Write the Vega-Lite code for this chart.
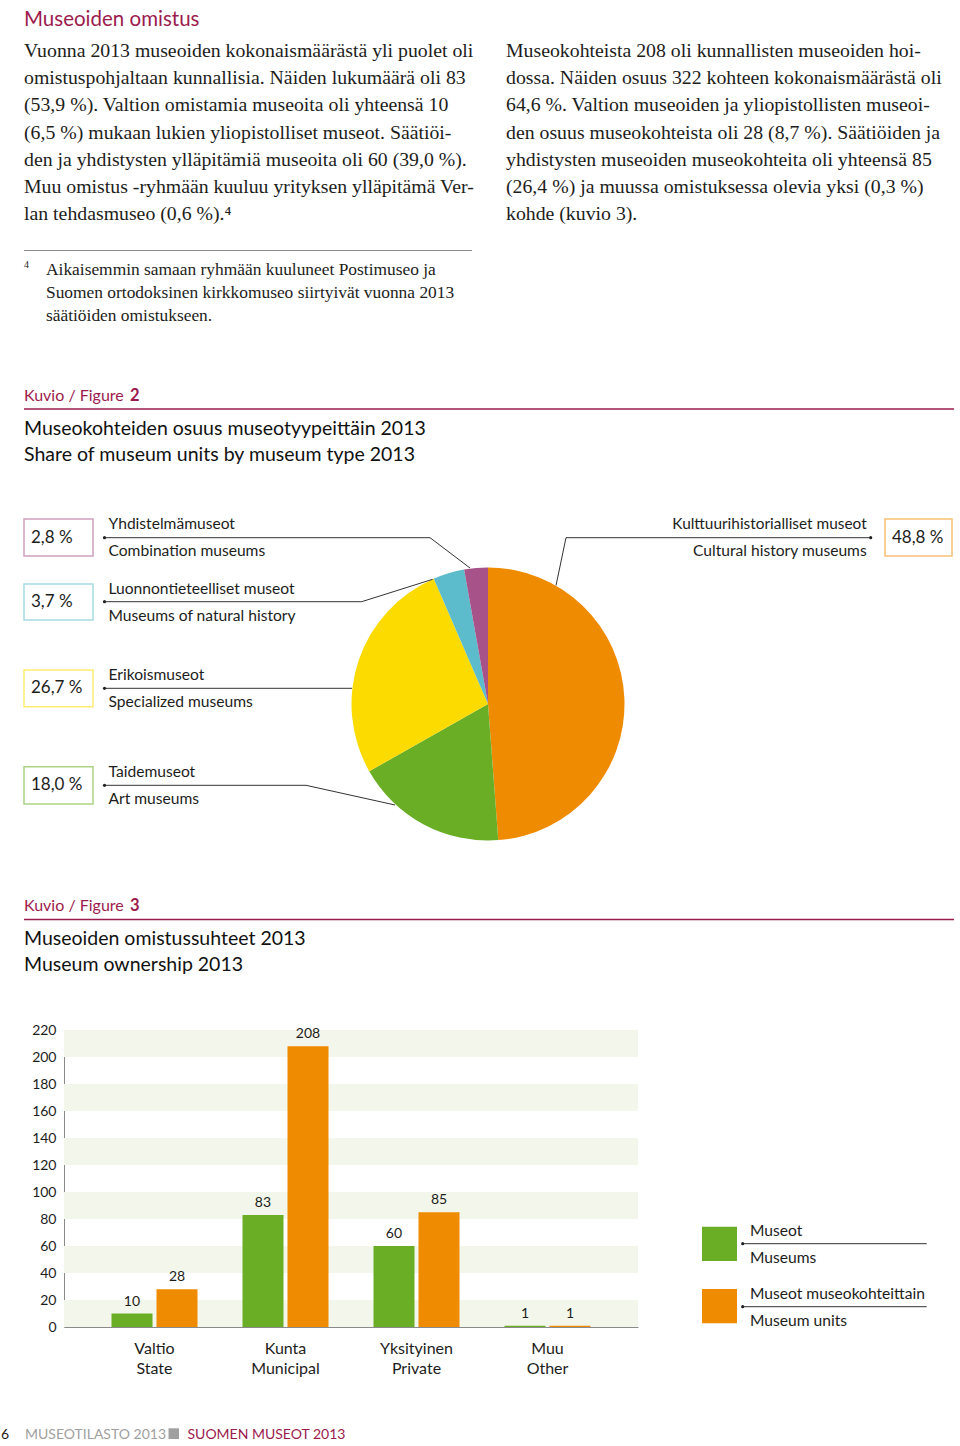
{
"$schema": "https://vega.github.io/schema/vega-lite/v6.json",
"padding": 0,
"background": "#ffffff",
"bounds": "flush",
"spacing": 0,
"resolve": {"scale": {"color": "independent", "stroke": "independent"}},
"config": {"view": {"stroke": null}, "text": {"font": "Lato", "color": "#1d1d1b"}, "axis": {"labelFont": "Lato"}},
"vconcat": [
{
 "width": 960, "height": 500,
 "layer": [
  {"data": {"values": [{"t": "Museoiden omistus"}]}, "mark": {"type": "text", "align": "left", "baseline": "alphabetic", "fontSize": 20.5, "color": "#9c1b4e"}, "encoding": {"x": {"value": 24}, "y": {"value": 25.5}, "text": {"field": "t", "type": "nominal"}}},
  {"data": {"values": [{"t": "Vuonna 2013 museoiden kokonaismäärästä yli puolet oli\nomistuspohjaltaan kunnallisia. Näiden lukumäärä oli 83\n(53,9 %). Valtion omistamia museoita oli yhteensä 10\n(6,5 %) mukaan lukien yliopistolliset museot. Säätiöi-\nden ja yhdistysten ylläpitämiä museoita oli 60 (39,0 %).\nMuu omistus -ryhmään kuuluu yrityksen ylläpitämä Ver-\nlan tehdasmuseo (0,6 %).⁴"}]}, "mark": {"type": "text", "align": "left", "baseline": "alphabetic", "font": "Liberation Serif", "fontSize": 19.8, "lineBreak": "\n", "lineHeight": 27.2}, "encoding": {"x": {"value": 24}, "y": {"value": 57}, "text": {"field": "t", "type": "nominal"}}},
  {"data": {"values": [{"t": "\u00a0\u00a0\u00a0\u00a0\u00a0\u00a0\u00a0Museokohteista 208 oli kunnallisten museoiden hoi-\ndossa. Näiden osuus 322 kohteen kokonaismäärästä oli\n64,6 %. Valtion museoiden ja yliopistollisten museoi-\nden osuus museokohteista oli 28 (8,7 %). Säätiöiden ja\nyhdistysten museoiden museokohteita oli yhteensä 85\n(26,4 %) ja muussa omistuksessa olevia yksi (0,3 %)\nkohde (kuvio 3)."}]}, "mark": {"type": "text", "align": "left", "baseline": "alphabetic", "font": "Liberation Serif", "fontSize": 19.8, "lineBreak": "\n", "lineHeight": 27.2}, "encoding": {"x": {"value": 506}, "y": {"value": 57}, "text": {"field": "t", "type": "nominal"}}},
  {"data": {"values": [{"a": 1}]}, "mark": {"type": "rule", "color": "#8c8c8c", "strokeWidth": 1}, "encoding": {"x": {"value": 24}, "x2": {"value": 472}, "y": {"value": 250.5}, "y2": {"value": 250.5}}},
  {"data": {"values": [{"t": "4"}]}, "mark": {"type": "text", "align": "left", "baseline": "alphabetic", "font": "Liberation Serif", "fontSize": 10}, "encoding": {"x": {"value": 24}, "y": {"value": 268}, "text": {"field": "t", "type": "nominal"}}},
  {"data": {"values": [{"t": "Aikaisemmin samaan ryhmään kuuluneet Postimuseo ja\nSuomen ortodoksinen kirkkomuseo siirtyivät vuonna 2013\nsäätiöiden omistukseen."}]}, "mark": {"type": "text", "align": "left", "baseline": "alphabetic", "font": "Liberation Serif", "fontSize": 17.4, "lineBreak": "\n", "lineHeight": 23}, "encoding": {"x": {"value": 46}, "y": {"value": 275}, "text": {"field": "t", "type": "nominal"}}},
  {"data": {"values": [{"t": "Kuvio / Figure"}]}, "mark": {"type": "text", "align": "left", "baseline": "alphabetic", "fontSize": 16, "color": "#9c1b4e"}, "encoding": {"x": {"value": 24}, "y": {"value": 401}, "text": {"field": "t", "type": "nominal"}}},
  {"data": {"values": [{"t": "2"}]}, "mark": {"type": "text", "align": "left", "baseline": "alphabetic", "fontSize": 16.5, "fontWeight": "bold", "color": "#9c1b4e"}, "encoding": {"x": {"value": 130}, "y": {"value": 401}, "text": {"field": "t", "type": "nominal"}}},
  {"data": {"values": [{"a": 1}]}, "mark": {"type": "rule", "color": "#9c1b4e", "strokeWidth": 1.5}, "encoding": {"x": {"value": 24}, "x2": {"value": 954}, "y": {"value": 409}, "y2": {"value": 409}}},
  {"data": {"values": [{"t": "Museokohteiden osuus museotyypeittäin 2013\nShare of museum units by museum type 2013"}]}, "mark": {"type": "text", "align": "left", "baseline": "alphabetic", "fontSize": 19.5, "lineBreak": "\n", "lineHeight": 26.5, "color": "#111111"}, "encoding": {"x": {"value": 24}, "y": {"value": 434.5}, "text": {"field": "t", "type": "nominal"}}}
 ]
},
{
 "width": 960, "height": 408,
 "data": {"values": [
   {"tyyppi": "Kulttuurihistorialliset museot", "type": "Cultural history museums", "share": 48.8, "label": "48,8 %", "idx": 1},
   {"tyyppi": "Taidemuseot", "type": "Art museums", "share": 18.0, "label": "18,0 %", "idx": 2},
   {"tyyppi": "Erikoismuseot", "type": "Specialized museums", "share": 26.7, "label": "26,7 %", "idx": 3},
   {"tyyppi": "Luonnontieteelliset museot", "type": "Museums of natural history", "share": 3.7, "label": "3,7 %", "idx": 4},
   {"tyyppi": "Yhdistelmämuseot", "type": "Combination museums", "share": 2.8, "label": "2,8 %", "idx": 5}
 ]},
 "layer": [
  {"mark": {"type": "arc", "outerRadius": 136.5}, "encoding": {"x": {"value": 488}, "y": {"value": 204}, "theta": {"field": "share", "type": "quantitative", "stack": true}, "order": {"field": "idx", "type": "quantitative"}, "color": {"field": "type", "type": "nominal", "scale": {"domain": ["Cultural history museums", "Art museums", "Specialized museums", "Museums of natural history", "Combination museums"], "range": ["#ef8b00", "#6aae26", "#fcdc00", "#5cbccc", "#a8528a"]}, "legend": null}}},
  {"transform": [{"filter": "datum.idx == 5"}], "layer": [
    {"mark": {"type": "rect", "fill": "white", "strokeWidth": 1.5, "strokeOpacity": 0.55}, "encoding": {"x": {"value": 24}, "x2": {"value": 93}, "y": {"value": 19}, "y2": {"value": 56}, "stroke": {"field": "type", "type": "nominal", "scale": {"domain": ["Cultural history museums", "Art museums", "Specialized museums", "Museums of natural history", "Combination museums"], "range": ["#ef8b00", "#6aae26", "#fcdc00", "#5cbccc", "#a8528a"]}, "legend": null}}},
    {"mark": {"type": "text", "align": "left", "baseline": "middle", "fontSize": 17}, "encoding": {"x": {"value": 31}, "y": {"value": 37.5}, "text": {"field": "label", "type": "nominal"}}},
    {"mark": {"type": "text", "align": "left", "baseline": "middle", "fontSize": 15.6}, "encoding": {"x": {"value": 108.5}, "y": {"value": 24}, "text": {"field": "tyyppi", "type": "nominal"}}},
    {"mark": {"type": "text", "align": "left", "baseline": "middle", "fontSize": 15.6}, "encoding": {"x": {"value": 108.5}, "y": {"value": 51}, "text": {"field": "type", "type": "nominal"}}},
    {"mark": {"type": "rule", "color": "#333333", "strokeWidth": 1}, "encoding": {"x": {"value": 104.5}, "y": {"value": 37.7}, "x2": {"value": 430}, "y2": {"value": 37.7}}},
    {"mark": {"type": "rule", "color": "#333333", "strokeWidth": 1}, "encoding": {"x": {"value": 430}, "y": {"value": 37.7}, "x2": {"value": 470}, "y2": {"value": 68}}},
    {"mark": {"type": "point", "shape": "circle", "filled": true, "size": 10, "color": "#222222", "opacity": 1}, "encoding": {"x": {"value": 104.5}, "y": {"value": 37.7}}}
  ]},
  {"transform": [{"filter": "datum.idx == 4"}], "layer": [
    {"mark": {"type": "rect", "fill": "white", "strokeWidth": 1.5, "strokeOpacity": 0.55}, "encoding": {"x": {"value": 24}, "x2": {"value": 93}, "y": {"value": 84}, "y2": {"value": 120}, "stroke": {"field": "type", "type": "nominal", "scale": {"domain": ["Cultural history museums", "Art museums", "Specialized museums", "Museums of natural history", "Combination museums"], "range": ["#ef8b00", "#6aae26", "#fcdc00", "#5cbccc", "#a8528a"]}, "legend": null}}},
    {"mark": {"type": "text", "align": "left", "baseline": "middle", "fontSize": 17}, "encoding": {"x": {"value": 31}, "y": {"value": 102}, "text": {"field": "label", "type": "nominal"}}},
    {"mark": {"type": "text", "align": "left", "baseline": "middle", "fontSize": 15.6}, "encoding": {"x": {"value": 108.5}, "y": {"value": 88.5}, "text": {"field": "tyyppi", "type": "nominal"}}},
    {"mark": {"type": "text", "align": "left", "baseline": "middle", "fontSize": 15.6}, "encoding": {"x": {"value": 108.5}, "y": {"value": 115.5}, "text": {"field": "type", "type": "nominal"}}},
    {"mark": {"type": "rule", "color": "#333333", "strokeWidth": 1}, "encoding": {"x": {"value": 104.5}, "y": {"value": 101.7}, "x2": {"value": 361.7}, "y2": {"value": 101.7}}},
    {"mark": {"type": "rule", "color": "#333333", "strokeWidth": 1}, "encoding": {"x": {"value": 361.7}, "y": {"value": 101.7}, "x2": {"value": 432.7}, "y2": {"value": 79.3}}},
    {"mark": {"type": "point", "shape": "circle", "filled": true, "size": 10, "color": "#222222", "opacity": 1}, "encoding": {"x": {"value": 104.5}, "y": {"value": 101.7}}}
  ]},
  {"transform": [{"filter": "datum.idx == 3"}], "layer": [
    {"mark": {"type": "rect", "fill": "white", "strokeWidth": 1.5, "strokeOpacity": 0.55}, "encoding": {"x": {"value": 24}, "x2": {"value": 93}, "y": {"value": 170}, "y2": {"value": 206.7}, "stroke": {"field": "type", "type": "nominal", "scale": {"domain": ["Cultural history museums", "Art museums", "Specialized museums", "Museums of natural history", "Combination museums"], "range": ["#ef8b00", "#6aae26", "#fcdc00", "#5cbccc", "#a8528a"]}, "legend": null}}},
    {"mark": {"type": "text", "align": "left", "baseline": "middle", "fontSize": 17}, "encoding": {"x": {"value": 31}, "y": {"value": 188.3}, "text": {"field": "label", "type": "nominal"}}},
    {"mark": {"type": "text", "align": "left", "baseline": "middle", "fontSize": 15.6}, "encoding": {"x": {"value": 108.5}, "y": {"value": 174.8}, "text": {"field": "tyyppi", "type": "nominal"}}},
    {"mark": {"type": "text", "align": "left", "baseline": "middle", "fontSize": 15.6}, "encoding": {"x": {"value": 108.5}, "y": {"value": 201.8}, "text": {"field": "type", "type": "nominal"}}},
    {"mark": {"type": "rule", "color": "#333333", "strokeWidth": 1}, "encoding": {"x": {"value": 104.5}, "y": {"value": 188.3}, "x2": {"value": 352}, "y2": {"value": 188.3}}},
    {"mark": {"type": "point", "shape": "circle", "filled": true, "size": 10, "color": "#222222", "opacity": 1}, "encoding": {"x": {"value": 104.5}, "y": {"value": 188.3}}}
  ]},
  {"transform": [{"filter": "datum.idx == 2"}], "layer": [
    {"mark": {"type": "rect", "fill": "white", "strokeWidth": 1.5, "strokeOpacity": 0.55}, "encoding": {"x": {"value": 24}, "x2": {"value": 93}, "y": {"value": 266.7}, "y2": {"value": 304}, "stroke": {"field": "type", "type": "nominal", "scale": {"domain": ["Cultural history museums", "Art museums", "Specialized museums", "Museums of natural history", "Combination museums"], "range": ["#ef8b00", "#6aae26", "#fcdc00", "#5cbccc", "#a8528a"]}, "legend": null}}},
    {"mark": {"type": "text", "align": "left", "baseline": "middle", "fontSize": 17}, "encoding": {"x": {"value": 31}, "y": {"value": 285.3}, "text": {"field": "label", "type": "nominal"}}},
    {"mark": {"type": "text", "align": "left", "baseline": "middle", "fontSize": 15.6}, "encoding": {"x": {"value": 108.5}, "y": {"value": 271.8}, "text": {"field": "tyyppi", "type": "nominal"}}},
    {"mark": {"type": "text", "align": "left", "baseline": "middle", "fontSize": 15.6}, "encoding": {"x": {"value": 108.5}, "y": {"value": 298.8}, "text": {"field": "type", "type": "nominal"}}},
    {"mark": {"type": "rule", "color": "#333333", "strokeWidth": 1}, "encoding": {"x": {"value": 104.5}, "y": {"value": 285.3}, "x2": {"value": 306}, "y2": {"value": 285.3}}},
    {"mark": {"type": "rule", "color": "#333333", "strokeWidth": 1}, "encoding": {"x": {"value": 306}, "y": {"value": 285.3}, "x2": {"value": 395}, "y2": {"value": 305}}},
    {"mark": {"type": "point", "shape": "circle", "filled": true, "size": 10, "color": "#222222", "opacity": 1}, "encoding": {"x": {"value": 104.5}, "y": {"value": 285.3}}}
  ]},
  {"transform": [{"filter": "datum.idx == 1"}], "layer": [
    {"mark": {"type": "rect", "fill": "white", "strokeWidth": 1.5, "strokeOpacity": 0.55}, "encoding": {"x": {"value": 885}, "x2": {"value": 952}, "y": {"value": 19}, "y2": {"value": 56}, "stroke": {"field": "type", "type": "nominal", "scale": {"domain": ["Cultural history museums", "Art museums", "Specialized museums", "Museums of natural history", "Combination museums"], "range": ["#ef8b00", "#6aae26", "#fcdc00", "#5cbccc", "#a8528a"]}, "legend": null}}},
    {"mark": {"type": "text", "align": "left", "baseline": "middle", "fontSize": 17}, "encoding": {"x": {"value": 892}, "y": {"value": 37.5}, "text": {"field": "label", "type": "nominal"}}},
    {"mark": {"type": "text", "align": "right", "baseline": "middle", "fontSize": 15.4}, "encoding": {"x": {"value": 866.7}, "y": {"value": 24}, "text": {"field": "tyyppi", "type": "nominal"}}},
    {"mark": {"type": "text", "align": "right", "baseline": "middle", "fontSize": 15.6}, "encoding": {"x": {"value": 866.7}, "y": {"value": 51}, "text": {"field": "type", "type": "nominal"}}},
    {"mark": {"type": "rule", "color": "#333333", "strokeWidth": 1}, "encoding": {"x": {"value": 870.7}, "y": {"value": 37.7}, "x2": {"value": 566}, "y2": {"value": 37.7}}},
    {"mark": {"type": "rule", "color": "#333333", "strokeWidth": 1}, "encoding": {"x": {"value": 566}, "y": {"value": 37.7}, "x2": {"value": 556}, "y2": {"value": 85.5}}},
    {"mark": {"type": "point", "shape": "circle", "filled": true, "size": 10, "color": "#222222", "opacity": 1}, "encoding": {"x": {"value": 870.7}, "y": {"value": 37.7}}}
  ]}
 ]
},
{
 "width": 960, "height": 122,
 "layer": [
  {"data": {"values": [{"t": "Kuvio / Figure"}]}, "mark": {"type": "text", "align": "left", "baseline": "alphabetic", "fontSize": 16, "color": "#9c1b4e"}, "encoding": {"x": {"value": 24}, "y": {"value": 3}, "text": {"field": "t", "type": "nominal"}}},
  {"data": {"values": [{"t": "3"}]}, "mark": {"type": "text", "align": "left", "baseline": "alphabetic", "fontSize": 16.5, "fontWeight": "bold", "color": "#9c1b4e"}, "encoding": {"x": {"value": 130}, "y": {"value": 3}, "text": {"field": "t", "type": "nominal"}}},
  {"data": {"values": [{"a": 1}]}, "mark": {"type": "rule", "color": "#9c1b4e", "strokeWidth": 1.5}, "encoding": {"x": {"value": 24}, "x2": {"value": 954}, "y": {"value": 11.5}, "y2": {"value": 11.5}}},
  {"data": {"values": [{"t": "Museoiden omistussuhteet 2013\nMuseum ownership 2013"}]}, "mark": {"type": "text", "align": "left", "baseline": "alphabetic", "fontSize": 19.5, "lineBreak": "\n", "lineHeight": 26.5, "color": "#111111"}, "encoding": {"x": {"value": 24}, "y": {"value": 36.5}, "text": {"field": "t", "type": "nominal"}}}
 ]
},
{
 "width": 960, "height": 297,
 "layer": [
  {"data": {"values": [{"lo": 0, "hi": 20}, {"lo": 40, "hi": 60}, {"lo": 80, "hi": 100}, {"lo": 120, "hi": 140}, {"lo": 160, "hi": 180}, {"lo": 200, "hi": 220}]},
   "mark": {"type": "rect", "color": "#f3f6ea"},
   "encoding": {"x": {"value": 64}, "x2": {"value": 638}, "y": {"field": "lo", "type": "quantitative", "scale": {"domain": [0, 220], "nice": false}, "axis": {"title": null, "offset": -64, "values": [0, 20, 40, 60, 80, 100, 120, 140, 160, 180, 200, 220], "grid": false, "ticks": false, "tickSize": 0, "labelPadding": 8, "labelFontSize": 14, "labelColor": "#1d1d1b", "domainColor": "#8a8a8a", "domainWidth": 1}}, "y2": {"field": "hi"}}},
  {"data": {"values": [
    {"owner": "Valtio|State", "series": "Museot", "n": 10},
    {"owner": "Valtio|State", "series": "Museokohteet", "n": 28},
    {"owner": "Kunta|Municipal", "series": "Museot", "n": 83},
    {"owner": "Kunta|Municipal", "series": "Museokohteet", "n": 208},
    {"owner": "Yksityinen|Private", "series": "Museot", "n": 60},
    {"owner": "Yksityinen|Private", "series": "Museokohteet", "n": 85},
    {"owner": "Muu|Other", "series": "Museot", "n": 1},
    {"owner": "Muu|Other", "series": "Museokohteet", "n": 1}
   ]},
   "encoding": {
    "x": {"field": "owner", "type": "nominal", "sort": null, "scale": {"range": [64, 638], "paddingInner": 0.3435, "paddingOuter": 0.3626}, "axis": {"title": null, "labelExpr": "split(datum.label, '|')", "labelAngle": 0, "labelFontSize": 16, "labelLineHeight": 20, "labelPadding": 13, "labelColor": "#1d1d1b", "ticks": false, "tickSize": 0, "domainColor": "#8a8a8a", "domainWidth": 1.2}},
    "xOffset": {"field": "series", "type": "nominal", "sort": ["Museot", "Museokohteet"], "scale": {"paddingInner": 0.089, "paddingOuter": 0}},
    "y": {"field": "n", "type": "quantitative", "scale": {"domain": [0, 220], "nice": false}, "axis": {"title": null, "offset": -64, "values": [0, 20, 40, 60, 80, 100, 120, 140, 160, 180, 200, 220], "grid": false, "ticks": false, "tickSize": 0, "labelPadding": 8, "labelFontSize": 14, "labelColor": "#1d1d1b", "domainColor": "#8a8a8a", "domainWidth": 1}}
   },
   "layer": [
    {"mark": {"type": "bar"}, "encoding": {"color": {"field": "series", "type": "nominal", "scale": {"domain": ["Museot", "Museokohteet"], "range": ["#6aae26", "#ef8b00"]}, "legend": null}}},
    {"mark": {"type": "text", "baseline": "alphabetic", "dy": -8, "fontSize": 14, "color": "#1d1d1b"}, "encoding": {"text": {"field": "n", "type": "quantitative"}}}
   ]
  },
  {"data": {"values": [{"series": "Museot", "fi": "Museot", "en": "Museums"}]}, "layer": [
    {"mark": {"type": "rect"}, "encoding": {"x": {"value": 702}, "x2": {"value": 737}, "y": {"value": 196.7}, "y2": {"value": 231}, "color": {"field": "series", "type": "nominal", "scale": {"domain": ["Museot", "Museokohteet"], "range": ["#6aae26", "#ef8b00"]}, "legend": null}}},
    {"mark": {"type": "text", "align": "left", "baseline": "middle", "fontSize": 15.6}, "encoding": {"x": {"value": 750}, "y": {"value": 201}, "text": {"field": "fi", "type": "nominal"}}},
    {"mark": {"type": "text", "align": "left", "baseline": "middle", "fontSize": 15.6}, "encoding": {"x": {"value": 750}, "y": {"value": 228}, "text": {"field": "en", "type": "nominal"}}},
    {"mark": {"type": "rule", "color": "#333333", "strokeWidth": 1}, "encoding": {"x": {"value": 742.7}, "x2": {"value": 926.7}, "y": {"value": 213.7}, "y2": {"value": 213.7}}},
    {"mark": {"type": "point", "shape": "circle", "filled": true, "size": 10, "color": "#222222", "opacity": 1}, "encoding": {"x": {"value": 742.7}, "y": {"value": 213.7}}}
  ]},
  {"data": {"values": [{"series": "Museokohteet", "fi": "Museot museokohteittain", "en": "Museum units"}]}, "layer": [
    {"mark": {"type": "rect"}, "encoding": {"x": {"value": 702}, "x2": {"value": 737}, "y": {"value": 259}, "y2": {"value": 293.3}, "color": {"field": "series", "type": "nominal", "scale": {"domain": ["Museot", "Museokohteet"], "range": ["#6aae26", "#ef8b00"]}, "legend": null}}},
    {"mark": {"type": "text", "align": "left", "baseline": "middle", "fontSize": 15.6}, "encoding": {"x": {"value": 750}, "y": {"value": 264}, "text": {"field": "fi", "type": "nominal"}}},
    {"mark": {"type": "text", "align": "left", "baseline": "middle", "fontSize": 15.6}, "encoding": {"x": {"value": 750}, "y": {"value": 291}, "text": {"field": "en", "type": "nominal"}}},
    {"mark": {"type": "rule", "color": "#333333", "strokeWidth": 1}, "encoding": {"x": {"value": 742.7}, "x2": {"value": 926.7}, "y": {"value": 276.7}, "y2": {"value": 276.7}}},
    {"mark": {"type": "point", "shape": "circle", "filled": true, "size": 10, "color": "#222222", "opacity": 1}, "encoding": {"x": {"value": 742.7}, "y": {"value": 276.7}}}
  ]},
  {"data": {"values": [{"t": "6"}]}, "mark": {"type": "text", "align": "left", "baseline": "alphabetic", "fontSize": 14, "color": "#1d1d1b"}, "encoding": {"x": {"value": 1}, "y": {"value": 408.5}, "text": {"field": "t", "type": "nominal"}}},
  {"data": {"values": [{"t": "MUSEOTILASTO 2013"}]}, "mark": {"type": "text", "align": "left", "baseline": "alphabetic", "fontSize": 14, "color": "#a0a0a0"}, "encoding": {"x": {"value": 25}, "y": {"value": 408.5}, "text": {"field": "t", "type": "nominal"}}},
  {"data": {"values": [{"a": 1}]}, "mark": {"type": "rect", "color": "#a0a0a0"}, "encoding": {"x": {"value": 168.5}, "x2": {"value": 179}, "y": {"value": 398.3}, "y2": {"value": 409}}},
  {"data": {"values": [{"t": "SUOMEN MUSEOT 2013"}]}, "mark": {"type": "text", "align": "left", "baseline": "alphabetic", "fontSize": 14, "color": "#9c1b4e"}, "encoding": {"x": {"value": 187.5}, "y": {"value": 408.5}, "text": {"field": "t", "type": "nominal"}}}
 ]
}
]
}
